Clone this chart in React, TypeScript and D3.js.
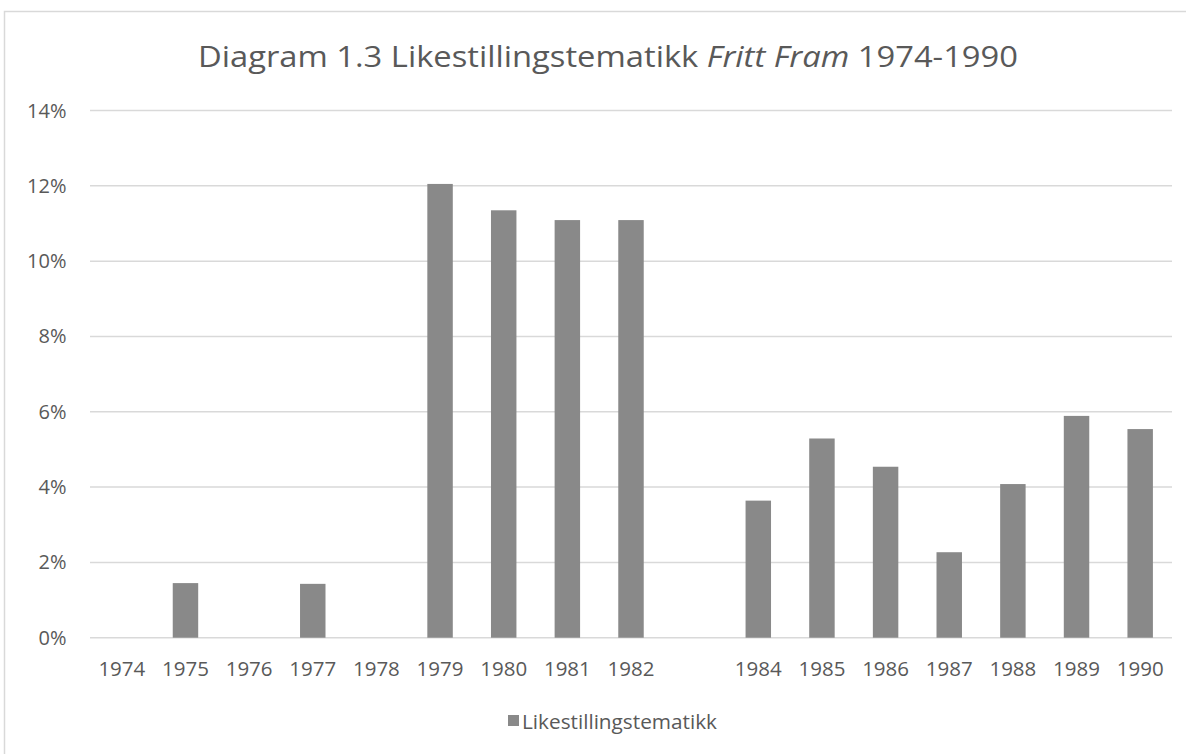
import React from "react";
import * as d3 from "d3";

const categories = ["1974","1975","1976","1977","1978","1979","1980","1981","1982","","1984","1985","1986","1987","1988","1989","1990"];
const values = [0, 1.45, 0, 1.43, 0, 12.05, 11.35, 11.09, 11.09, 0, 3.64, 5.29, 4.54, 2.27, 4.08, 5.89, 5.54];
const yTicks = [0, 2, 4, 6, 8, 10, 12, 14];
const seriesName = "Likestillingstematikk";

const W = 1186, H = 754;
const FONT = "'Open Sans', 'DejaVu Sans', sans-serif";
const TEXT = "#595959";

export default function App() {
  const left = 90, right = 1172, top = 110.5, bottom = 637.7;
  const x = d3.scaleBand<number>().domain(d3.range(categories.length)).range([left, right]).paddingInner(0.6).paddingOuter(0.3);
  const y = d3.scaleLinear().domain([0, 14]).range([bottom, top]);
  return (
    <svg width={W} height={H} style={{ position: "absolute", left: 0, top: 0, background: "#fff" }} fontFamily={FONT}>
      <rect x={4.5} y={11.5} width={W + 20} height={H + 20} fill="#fff" stroke="#d9d9d9" strokeWidth={1.5} />
      <text x={608} y={66.5} textAnchor="middle" fontSize={30} fill={TEXT} textLength={820} lengthAdjust="spacingAndGlyphs">
        Diagram 1.3 Likestillingstematikk <tspan fontStyle="italic">Fritt Fram</tspan> 1974-1990
      </text>
      {yTicks.map((t) => (
        <g key={t}>
          <line x1={left} x2={right} y1={y(t)} y2={y(t)} stroke="#d9d9d9" strokeWidth={1.5} />
          <text x={66.5} y={y(t) + 7} textAnchor="end" fontSize={20} fill={TEXT}>{t}%</text>
        </g>
      ))}
      {values.map((v, i) => v > 0 ? (
        <rect key={i} x={x(i)!} width={x.bandwidth()} y={y(v)} height={y(0) - y(v)} fill="#898989" />
      ) : null)}
      {categories.map((c, i) => (
        <text key={i} x={x(i)! + x.bandwidth() / 2} y={676} textAnchor="middle" fontSize={20.5} fill={TEXT}>{c}</text>
      ))}
      <rect x={508} y={715} width={11} height={11} fill="#898989" />
      <text x={522} y={729} fontSize={20.5} fill={TEXT} textLength={195} lengthAdjust="spacingAndGlyphs">{seriesName}</text>
    </svg>
  );
}
